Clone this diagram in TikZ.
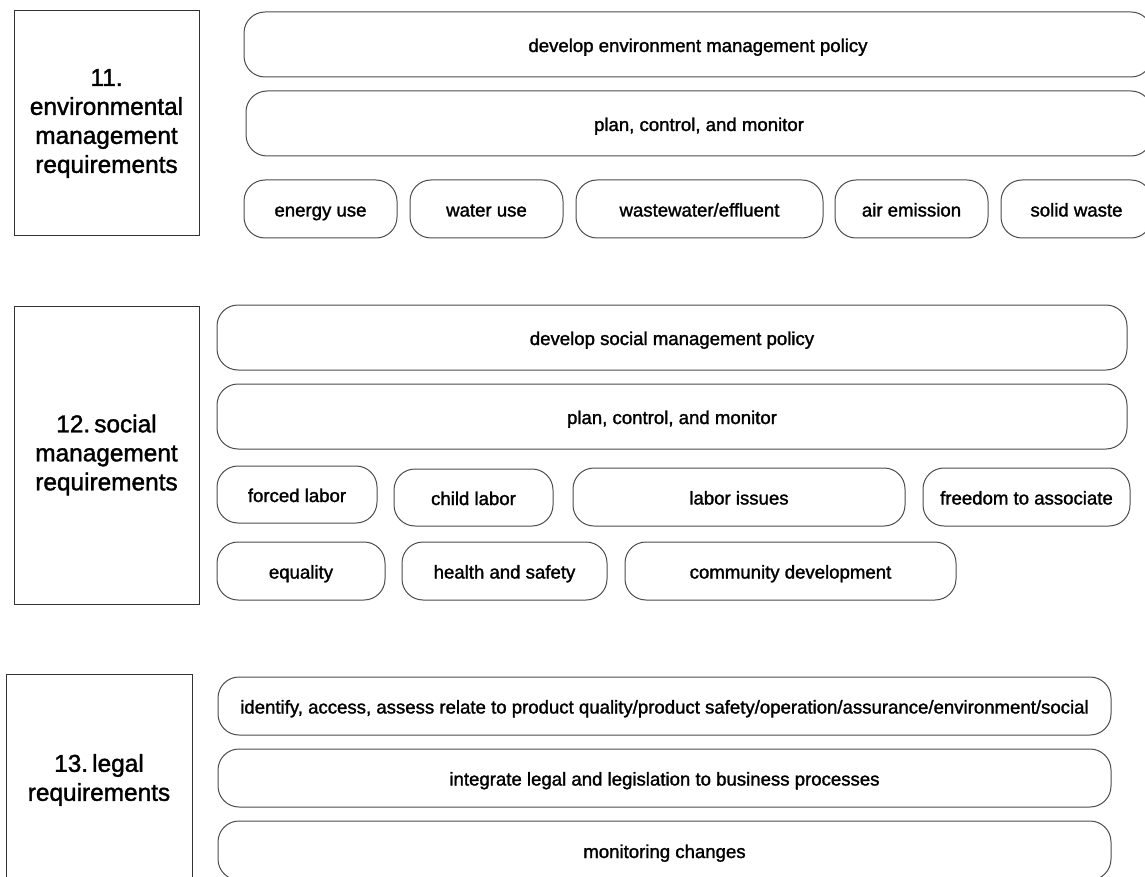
\documentclass[tikz,border=0pt]{standalone}
\usepackage{fontspec}
\setmainfont{Liberation Sans}[FakeBold=1.5]
\begin{document}
\begin{tikzpicture}[x=1pt,y=-1pt,
  every node/.style={inner sep=0pt,text height=18pt,text depth=3pt,
    font=\fontsize{18.6}{22}\selectfont},
  pill/.style={draw=black!70,line width=1pt,rounded corners=21pt},
  headbox/.style={draw=black!80,line width=1pt,align=center,text height=,text depth=,
    font=\fontsize{24.4}{29}\selectfont}]
\useasboundingbox (0,0) rectangle (1145,877);
\clip (0,0) rectangle (1145,877);
% 11. environmental management
\node[headbox,minimum width=185pt,minimum height=225pt] (envhead) at (106.5,123.5) {11.\\environmental\\management\\requirements};
\node[pill,minimum width=908pt,minimum height=65pt] (envpolicy) at (698,44.5) {develop environment management policy};
\node[pill,minimum width=906pt,minimum height=65pt] (envplan) at (699,123.5) {plan, control, and monitor};
\node[pill,minimum width=153pt,minimum height=58pt] (energy) at (320.5,209) {energy use};
\node[pill,minimum width=153pt,minimum height=58pt] (water) at (486.5,209) {water use};
\node[pill,minimum width=247pt,minimum height=58pt] (effluent) at (699.5,209) {wastewater/effluent};
\node[pill,minimum width=153pt,minimum height=58pt] (air) at (911.5,209) {air emission};
\node[pill,minimum width=151pt,minimum height=58pt] (solid) at (1076.5,209) {solid waste};
% 12. social management
\node[headbox,minimum width=185pt,minimum height=298pt] (sochead) at (106.5,455) {12.\,social\\management\\requirements};
\node[pill,minimum width=910pt,minimum height=65pt] (socpolicy) at (672,337.5) {develop social management policy};
\node[pill,minimum width=910pt,minimum height=65pt] (socplan) at (672,416.5) {plan, control, and monitor};
\node[pill,minimum width=160pt,minimum height=57pt] (forced) at (297,494.5) {forced labor};
\node[pill,minimum width=159pt,minimum height=57pt] (child) at (473.5,497.5) {child labor};
\node[pill,minimum width=332pt,minimum height=58pt] (labor) at (739,497) {labor issues};
\node[pill,minimum width=207pt,minimum height=58pt] (freedom) at (1026.5,497) {freedom to associate};
\node[pill,minimum width=168pt,minimum height=58pt] (equality) at (301,571) {equality};
\node[pill,minimum width=205pt,minimum height=58pt] (health) at (504.5,571) {health and safety};
\node[pill,minimum width=331pt,minimum height=58pt] (community) at (790.5,571) {community development};
% 13. legal
\node[headbox,minimum width=186pt,minimum height=212pt] (leghead) at (99,780) {13.\,legal\\requirements};
\node[pill,minimum width=893pt,minimum height=58pt] (identify) at (664.5,706) {identify, access, assess relate to product quality/product safety/operation/assurance/environment/social};
\node[pill,minimum width=893pt,minimum height=58pt] (integrate) at (664.5,778) {integrate legal and legislation to business processes};
\node[pill,minimum width=893pt,minimum height=59pt] (monitoring) at (664.5,850.5) {monitoring changes};
\end{tikzpicture}
\end{document}
